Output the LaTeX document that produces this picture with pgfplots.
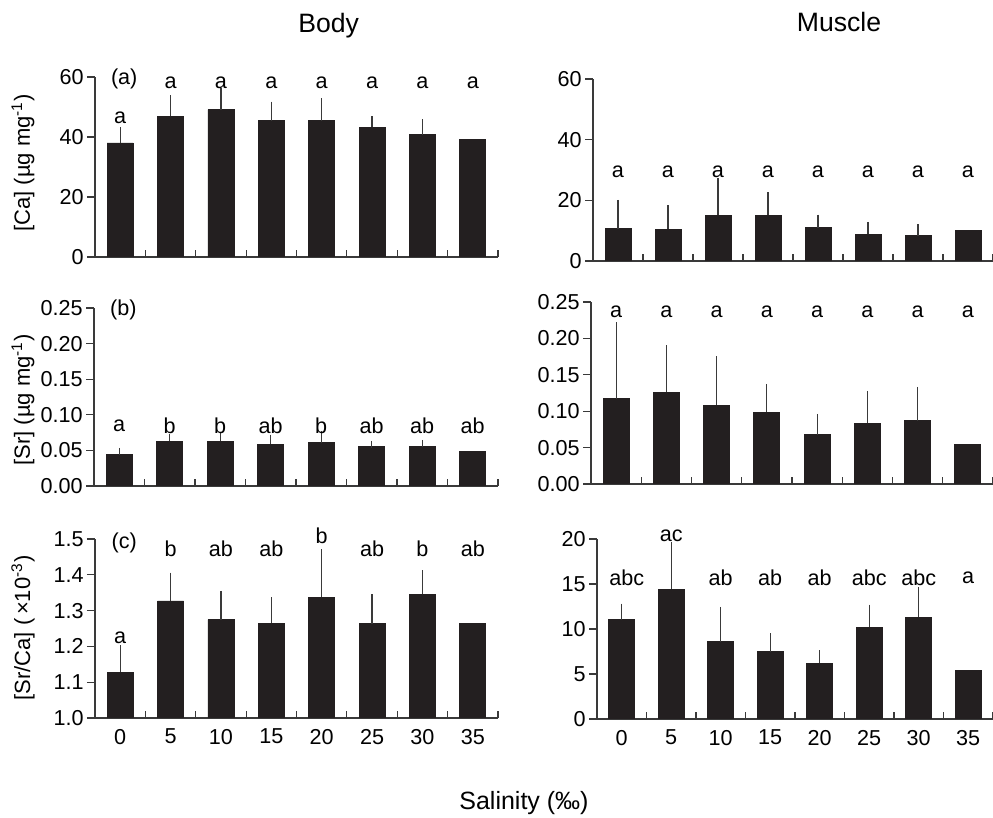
\documentclass[border=0pt]{standalone}
\usepackage{fontspec}
\setmainfont{Liberation Sans}
\usepackage{pgfplots}
\pgfplotsset{compat=1.18}
\definecolor{barc}{HTML}{231F20}
\definecolor{axc}{HTML}{3A3A3A}
\tikzset{lt/.style={font=\fontsize{10.8}{12}\selectfont, inner sep=0pt}}
\pgfplotsset{
 panel/.style={
  scale only axis, anchor=south west, clip mode=individual,
  xmin=-0.5, xmax=7.5,
  axis x line*=bottom, axis y line*=left,
  axis line style={-, draw=axc, line width=0.6pt},
  tick style={draw=axc, line width=0.6pt},
  tick align=outside, major tick length=4pt, minor tick length=3.5pt,
  xtick={0,...,7}, xticklabels={},
  every major x tick/.append style={draw=none},
  minor xtick={0.5,1.5,...,7.5},
  every minor x tick/.append style={yshift=3.5pt},
  ticklabel style={font=\fontsize{10.8}{12}\selectfont},
  yticklabel style={inner sep=1.5pt},
  xticklabel style={yshift=2pt},
  /pgf/number format/assume math mode=true,
  ybar, bar width=13pt, bar shift=0pt,
 },
 bars/.style={fill=barc, draw=barc,
  error bars/.cd, y dir=plus, y explicit,
  error mark options={draw=axc, mark size=1.8pt, line width=0.6pt},
  error bar style={draw=axc, line width=0.6pt}},
 bar/.style={fill=barc, draw=barc},
}
\begin{document}
\begin{tikzpicture}[font=\fontsize{10.8}{12}\selectfont]
\useasboundingbox (0,0) rectangle (496.5pt,409pt);

% (a) body Ca
\begin{axis}[panel, at={(47.5pt,280.5pt)}, width=201.5pt, height=90pt,
  ymin=0, ymax=60, ytick={0,20,40,60}]
\addplot[bars] coordinates {(0,38.0) +- (0,4.1) (1,46.9) +- (0,5.8) (2,49.1) +- (0,5.9) (3,45.4) +- (0,5.2)
  (4,45.4) +- (0,6.3) (5,43.2) +- (0,2.5) (6,40.8) +- (0,3.9)};
\addplot[bar] coordinates {(7,39.1)};
\node[lt] at (axis cs:0.08,59.3) {(a)};
\node[lt] at (axis cs:0,46.3) {a};
\pgfplotsinvokeforeach{1,...,7}{\node[lt] at (axis cs:#1,58) {a};}
\end{axis}

% muscle Ca
\begin{axis}[panel, at={(296.5pt,278.5pt)}, width=200pt, height=91pt,
  ymin=0, ymax=60, ytick={0,20,40,60}]
\addplot[bars] coordinates {(0,10.7) +- (0,8.3) (1,10.5) +- (0,6.7) (2,15.0) +- (0,11.2) (3,15.0) +- (0,6.4)
  (4,11.0) +- (0,3.1) (5,8.8) +- (0,2.9) (6,8.4) +- (0,2.5)};
\addplot[bar] coordinates {(7,10.0)};
\pgfplotsinvokeforeach{0,...,7}{\node[lt] at (axis cs:#1,29.4) {a};}
\end{axis}

% (b) body Sr
\begin{axis}[panel, at={(47pt,166pt)}, width=202pt, height=89pt,
  ymin=0, ymax=0.25, ytick={0,0.05,0.10,0.15,0.20,0.25},
  yticklabel style={/pgf/number format/.cd, fixed, fixed zerofill, precision=2}]
\addplot[bars] coordinates {(0,0.0441) +- (0,0.0042) (1,0.0629) +- (0,0.0051) (2,0.0629) +- (0,0.0084) (3,0.0586) +- (0,0.0085)
  (4,0.0610) +- (0,0.0112) (5,0.0558) +- (0,0.0024) (6,0.0558) +- (0,0.0038)};
\addplot[bar] coordinates {(7,0.0492)};
\node[lt] at (axis cs:0.08,0.2467) {(b)};
\node[lt] at (axis cs:0,0.085) {a};
\node[lt] at (axis cs:1,0.085) {b};
\node[lt] at (axis cs:2,0.085) {b};
\node[lt] at (axis cs:3,0.085) {ab};
\node[lt] at (axis cs:4,0.085) {b};
\node[lt] at (axis cs:5,0.085) {ab};
\node[lt] at (axis cs:6,0.085) {ab};
\node[lt] at (axis cs:7,0.085) {ab};
\end{axis}

% muscle Sr
\begin{axis}[panel, at={(295.5pt,167pt)}, width=201pt, height=91pt,
  ymin=0, ymax=0.25, ytick={0,0.05,0.10,0.15,0.20,0.25},
  yticklabel style={/pgf/number format/.cd, fixed, fixed zerofill, precision=2}]
\addplot[bars] coordinates {(0,0.1174) +- (0,0.1000) (1,0.1257) +- (0,0.0601) (2,0.1083) +- (0,0.0619) (3,0.0986) +- (0,0.0340)
  (4,0.0679) +- (0,0.0234) (5,0.0835) +- (0,0.0394) (6,0.0872) +- (0,0.0412)};
\addplot[bar] coordinates {(7,0.0537)};
\pgfplotsinvokeforeach{0,...,7}{\node[lt] at (axis cs:#1,0.237) {a};}
\end{axis}

% (c) body Sr/Ca
\begin{axis}[panel, at={(47.5pt,50pt)}, width=201.5pt, height=89.5pt,
  ymin=1.0, ymax=1.5, ytick={1.0,1.1,1.2,1.3,1.4,1.5},
  yticklabel style={/pgf/number format/.cd, fixed, fixed zerofill, precision=1},
  xticklabels={0,5,10,15,20,25,30,35}]
\addplot[bars] coordinates {(0,1.128) +- (0,0.065) (1,1.327) +- (0,0.069) (2,1.275) +- (0,0.070) (3,1.265) +- (0,0.062)
  (4,1.337) +- (0,0.124) (5,1.263) +- (0,0.072) (6,1.345) +- (0,0.057)};
\addplot[bar] coordinates {(7,1.265)};
\node[lt] at (axis cs:0.08,1.489) {(c)};
\node[lt] at (axis cs:0,1.2235) {a};
\node[lt] at (axis cs:1,1.472) {b};
\node[lt] at (axis cs:2,1.472) {ab};
\node[lt] at (axis cs:3,1.472) {ab};
\node[lt] at (axis cs:4,1.509) {b};
\node[lt] at (axis cs:5,1.472) {ab};
\node[lt] at (axis cs:6,1.472) {b};
\node[lt] at (axis cs:7,1.472) {ab};
\end{axis}

% muscle Sr/Ca
\begin{axis}[panel, at={(298.5pt,49.5pt)}, width=198pt, height=90pt,
  ymin=0, ymax=20, ytick={0,5,10,15,20},
  xticklabels={0,5,10,15,20,25,30,35}]
\addplot[bars] coordinates {(0,11.04) +- (0,1.37) (1,14.44) +- (0,4.86) (2,8.59) +- (0,3.48) (3,7.48) +- (0,1.63)
  (4,6.22) +- (0,1.04) (5,10.22) +- (0,2.08) (6,11.33) +- (0,2.93)};
\addplot[bar] coordinates {(7,5.44)};
\node[lt] at (axis cs:0.1,15.67) {abc};
\node[lt] at (axis cs:1,20.3) {ac};
\node[lt] at (axis cs:2,15.67) {ab};
\node[lt] at (axis cs:3,15.67) {ab};
\node[lt] at (axis cs:4,15.67) {ab};
\node[lt] at (axis cs:5,15.67) {abc};
\node[lt] at (axis cs:6,15.67) {abc};
\node[lt] at (axis cs:7,15.67) {a};
\end{axis}

% titles and labels
\node[font=\fontsize{13.3}{15}\selectfont, anchor=base] at (164.3pt,392.5pt) {Body};
\node[font=\fontsize{13.3}{15}\selectfont, anchor=base] at (419.5pt,393pt) {Muscle};
\node[font=\fontsize{12.5}{14}\selectfont, anchor=base] at (262pt,4pt) {Salinity (‰)};
\node[rotate=90, font=\fontsize{11}{12}\selectfont] at (11.5pt,327.5pt) {[Ca] (µg mg\textsuperscript{-1})};
\node[rotate=90, font=\fontsize{11}{12}\selectfont] at (11.5pt,209pt) {[Sr] (µg mg\textsuperscript{-1})};
\node[rotate=90, font=\fontsize{11}{12}\selectfont] at (11.5pt,95pt) {[Sr/Ca] (\,×10\textsuperscript{-3})};
\end{tikzpicture}
\end{document}
